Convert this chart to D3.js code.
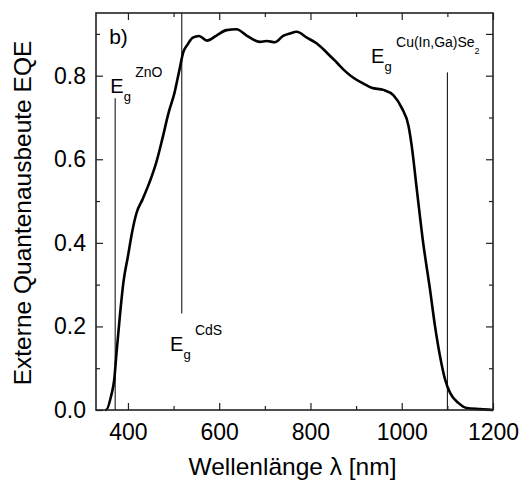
<!DOCTYPE html>
<html>
<head>
<meta charset="utf-8">
<script src="https://cdn.jsdelivr.net/npm/d3@7"></script>
<style>
  html, body { margin: 0; padding: 0; background: #fff; }
  svg { display: block; }
  text { font-family: "Liberation Sans", Arial, Helvetica, sans-serif; fill: #000; }
</style>
</head>
<body>
<svg id="chart" width="521" height="484"></svg>
<script>
// ---- data ----
const wavelength = [350, 352, 363, 370, 375, 383, 390, 400, 409, 419, 432, 447, 462, 475, 489, 502, 513, 521, 531, 542, 556, 573, 594, 616, 638, 660, 689, 704, 722, 740, 755, 770, 792, 814, 836, 858, 876, 894, 916, 934, 960, 982, 1000, 1015, 1022, 1033, 1047, 1062, 1073, 1084, 1095, 1106, 1124, 1142, 1172, 1200];
const eqe = [0, 0.0, 0.033, 0.073, 0.137, 0.233, 0.305, 0.368, 0.425, 0.472, 0.504, 0.544, 0.592, 0.647, 0.711, 0.759, 0.815, 0.855, 0.875, 0.891, 0.895, 0.884, 0.896, 0.909, 0.911, 0.896, 0.881, 0.883, 0.880, 0.895, 0.901, 0.905, 0.891, 0.877, 0.855, 0.831, 0.811, 0.795, 0.781, 0.771, 0.766, 0.753, 0.723, 0.679, 0.631, 0.528, 0.400, 0.288, 0.200, 0.128, 0.073, 0.041, 0.017, 0.005, 0.002, 0];

const xTicks = [400, 600, 800, 1000, 1200];
const xMinorTicks = [500, 700, 900, 1100];
const yTicks = [0.0, 0.2, 0.4, 0.6, 0.8];
const yMinorTicks = [0.1, 0.3, 0.5, 0.7, 0.9];

// band gap markers: wavelength, line from y0 to y1
const gapNames = ["ZnO", "CdS", "Cu(In,Ga)Se"];
const gapWavelengths = [372, 518, 1100];
const gapLineFrom = [0, 0.231, 0];
const gapLineTo = [0.746, 0.95, 0.808];

const xLabel = "Wellenlänge λ [nm]";
const yLabel = "Externe Quantenausbeute EQE";
const panelLabel = "b)";

// ---- layout ----
const W = 521, H = 484;
const margin = { left: 96, top: 13, right: 28, bottom: 74 };
const iw = W - margin.left - margin.right;
const ih = H - margin.top - margin.bottom;

const x = d3.scaleLinear().domain([330, 1200]).range([0, iw]);
const y = d3.scaleLinear().domain([0, 0.95]).range([ih, 0]);

const svg = d3.select("#chart");
const g = svg.append("g").attr("transform", `translate(${margin.left},${margin.top})`);

// band-gap lines
gapWavelengths.forEach((wl, i) => {
  g.append("line")
    .attr("x1", x(wl)).attr("x2", x(wl))
    .attr("y1", y(gapLineFrom[i])).attr("y2", y(gapLineTo[i]))
    .attr("stroke", "#000").attr("stroke-width", 1);
});

// EQE curve
const line = d3.line()
  .x((d, i) => x(wavelength[i]))
  .y((d, i) => y(eqe[i]))
  .curve(d3.curveMonotoneX);
g.append("path")
  .datum(eqe)
  .attr("d", line)
  .attr("fill", "none")
  .attr("stroke", "#000")
  .attr("stroke-width", 2.6)
  .attr("stroke-linejoin", "round");

// axes (ticks inward, mirrored)
const major = 7, minor = 4;
function styleAxis(sel) {
  sel.select(".domain").remove();
  sel.selectAll(".tick line").attr("stroke", "#222").attr("stroke-width", 1.2);
  sel.selectAll(".tick text").style("font-size", "23px").attr("fill", "#000");
}
const xAxisB = d3.axisBottom(x).tickValues(xTicks).tickSize(-major).tickPadding(14).tickFormat(d3.format("d"));
g.append("g").attr("transform", `translate(0,${ih})`).call(xAxisB).call(styleAxis);
g.append("g").attr("transform", `translate(0,${ih})`)
  .call(d3.axisBottom(x).tickValues(xMinorTicks).tickSize(-minor).tickFormat("")).call(styleAxis);
g.append("g").call(d3.axisTop(x).tickValues(xTicks).tickSize(-major).tickFormat("")).call(styleAxis);
g.append("g").call(d3.axisTop(x).tickValues(xMinorTicks).tickSize(-minor).tickFormat("")).call(styleAxis);

const yAxisL = d3.axisLeft(y).tickValues(yTicks).tickSize(-major).tickPadding(10).tickFormat(d3.format(".1f"));
g.append("g").call(yAxisL).call(styleAxis);
g.append("g").call(d3.axisLeft(y).tickValues(yMinorTicks).tickSize(-minor).tickFormat("")).call(styleAxis);
g.append("g").attr("transform", `translate(${iw},0)`)
  .call(d3.axisRight(y).tickValues(yTicks.concat([0.9])).tickSize(-major).tickFormat("")).call(styleAxis);
g.append("g").attr("transform", `translate(${iw},0)`)
  .call(d3.axisRight(y).tickValues(yMinorTicks.filter(v => v !== 0.9)).tickSize(-minor).tickFormat("")).call(styleAxis);

// frame
g.append("rect").attr("x", 0).attr("y", 0).attr("width", iw).attr("height", ih)
  .attr("fill", "none").attr("stroke", "#222").attr("stroke-width", 1.6);

// axis titles
svg.append("text")
  .attr("x", margin.left + iw / 2 - 2).attr("y", 475)
  .attr("text-anchor", "middle").style("font-size", "24.5px")
  .text(xLabel);
svg.append("text")
  .attr("transform", `translate(31,${213}) rotate(-90)`)
  .attr("text-anchor", "middle").style("font-size", "24.5px")
  .text(yLabel);

// panel label
g.append("text").attr("x", x(361) - 1).attr("y", y(0.875)).style("font-size", "21px").text(panelLabel);

// band-gap labels (positions in data space)
function gapLabel(wlE, vE, sup, supSub) {
  const ex = x(wlE), ey = y(vE);
  g.append("text").attr("x", ex).attr("y", ey).style("font-size", "20px").text("E");
  g.append("text").attr("x", ex + 13.5).attr("y", ey + 8).style("font-size", "13px").text("g");
  const t = g.append("text").attr("x", ex + 25).attr("y", ey - 16).style("font-size", "14px").text(sup);
  if (supSub) {
    t.append("tspan").attr("dy", 7).style("font-size", "9px").text(supSub);
  }
}
gapLabel(361, 0.758, gapNames[0]);
gapLabel(492, 0.142, gapNames[1]);
gapLabel(932.7, 0.831, gapNames[2], "2");
</script>
</body>
</html>
